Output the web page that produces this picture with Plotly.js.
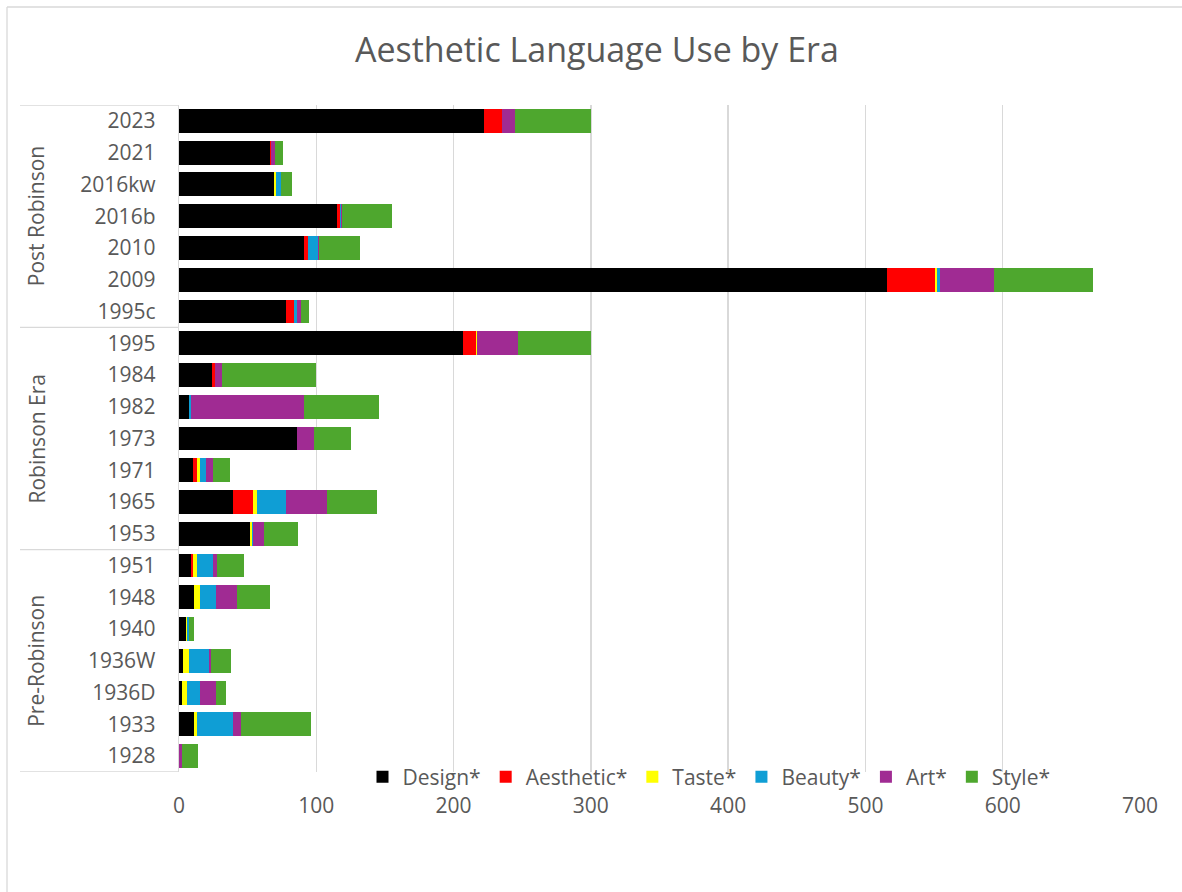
<!DOCTYPE html>
<html>
<head>
<meta charset="utf-8">
<script src="https://cdn.plot.ly/plotly-3.0.1.min.js"></script>
<style>
  html, body { margin: 0; padding: 0; background: #ffffff; overflow: hidden; }
  #chart { width: 1182px; height: 892px; }
</style>
</head>
<body>
<div id="chart"></div>
<script>
// Categories, top to bottom
const years = ['2023','2021','2016kw','2016b','2010','2009','1995c',
               '1995','1984','1982','1973','1971','1965','1953',
               '1951','1948','1940','1936W','1936D','1933','1928'];
const eras = ['Post Robinson','Post Robinson','Post Robinson','Post Robinson','Post Robinson','Post Robinson','Post Robinson',
              'Robinson Era','Robinson Era','Robinson Era','Robinson Era','Robinson Era','Robinson Era','Robinson Era',
              'Pre-Robinson','Pre-Robinson','Pre-Robinson','Pre-Robinson','Pre-Robinson','Pre-Robinson','Pre-Robinson'];

// Series values (same order as years)
const design    = [222, 66, 69, 115, 91, 516, 78, 207, 24,  7, 86, 10, 39, 52,  9, 11, 5,  3,  2, 11,  0];
const aesthetic = [ 13,  1,  0,   2,  3,  35,  6,   9,  2,  0,  0,  3, 15,  0,  1,  0, 0,  0,  0,  0,  0];
const taste     = [  0,  0,  2,   0,  0,   1,  0,   1,  0,  0,  0,  2,  3,  1,  3,  4, 1,  4,  4,  2,  0];
const beauty    = [  0,  0,  3,   1,  7,   2,  2,   0,  0,  2,  0,  5, 21,  1, 12, 12, 1, 15,  9, 26,  0];
const art       = [ 10,  3,  0,   1,  1,  40,  3,  30,  5, 82, 12,  5, 30,  8,  3, 15, 0,  1, 12,  6,  2];
const style     = [ 55,  6,  8,  36, 30,  72,  6,  53, 69, 55, 27, 12, 36, 25, 19, 24, 4, 15,  7, 51, 12];

const seriesNames = ['Design*','Aesthetic*','Taste*','Beauty*','Art*','Style*'];
const seriesColors = ['#000000','#FF0000','#FFFF00','#0F9ED5','#A02B93','#4EA72E'];
const seriesValues = [design, aesthetic, taste, beauty, art, style];

const FONT = '"Open Sans", "Liberation Sans", sans-serif';
const TXT = '#595959';
const GRID = '#d9d9d9';
const FS = 21;

const traces = seriesNames.map((name, i) => ({
  type: 'bar',
  orientation: 'h',
  name: name,
  y: years,
  x: seriesValues[i],
  marker: { color: seriesColors[i], line: { width: 0 } },
  hoverinfo: 'name+x+y'
}));

// Geometry (pixels -> paper)
const W = 1182, H = 892;
const mL = 179, mR = 42, mT = 105, mB = 120;
const plotW = W - mL - mR, plotH = H - mT - mB;
const px2x = p => (p - mL) / plotW;
const px2y = p => 1 - (p - mT) / plotH;

// Group boundaries and label positions from the eras array
const uniqueEras = [];
const eraStart = {}, eraEnd = {};
eras.forEach((e, i) => {
  if (!(e in eraStart)) { uniqueEras.push(e); eraStart[e] = i; }
  eraEnd[e] = i;
});

const shapes = [];
// outer chart border (top and left edges only are visible in the frame)
shapes.push({
  type: 'line', xref: 'paper', yref: 'paper',
  x0: px2x(7), x1: px2x(W + 60), y0: px2y(7), y1: px2y(7),
  line: { color: GRID, width: 1.3 }
});
shapes.push({
  type: 'line', xref: 'paper', yref: 'paper',
  x0: px2x(7), x1: px2x(7), y0: px2y(7), y1: px2y(H + 60),
  line: { color: GRID, width: 1.3 }
});
// category table lines
const boundaries = [eraStart[uniqueEras[0]] - 0.5];
uniqueEras.forEach(e => boundaries.push(eraEnd[e] + 0.5));
boundaries.forEach(b => shapes.push({
  type: 'line', xref: 'paper', yref: 'y',
  x0: px2x(20), x1: 0, y0: b, y1: b,
  line: { color: GRID, width: 1.3 }
}));

const annotations = uniqueEras.map(e => ({
  xref: 'paper', yref: 'y',
  x: px2x(36), y: (eraStart[e] + eraEnd[e]) / 2,
  text: e, textangle: -90, showarrow: false,
  xanchor: 'center', yanchor: 'middle',
  font: { family: FONT, size: FS, color: TXT }
}));

const layout = {
  width: W, height: H,
  margin: { l: mL, r: mR, t: mT, b: mB, pad: 0 },
  paper_bgcolor: '#ffffff', plot_bgcolor: '#ffffff',
  barmode: 'stack',
  bargap: 0.25,
  font: { family: FONT, color: TXT, size: FS },
  title: {
    text: 'Aesthetic Language Use by Era',
    x: 0.505, xref: 'container', xanchor: 'center',
    y: 1 - 50 / H, yref: 'container', yanchor: 'middle',
    font: { family: FONT, size: 34, color: TXT }
  },
  xaxis: {
    range: [0, 700], dtick: 100, tick0: 0,
    showgrid: true, gridcolor: GRID, gridwidth: 1.3,
    zeroline: false, showline: false, ticks: '',
    ticklabelstandoff: 19,
    tickfont: { family: FONT, size: FS, color: TXT },
    fixedrange: true
  },
  yaxis: {
    type: 'category',
    categoryorder: 'array', categoryarray: years,
    range: [years.length - 0.5, -0.5],
    showgrid: false, zeroline: false,
    showline: true, linecolor: GRID, linewidth: 1.3,
    ticks: '', ticklabelstandoff: 18,
    tickfont: { family: FONT, size: FS, color: TXT },
    fixedrange: true
  },
  legend: {
    orientation: 'h',
    x: px2x(709), xanchor: 'center',
    y: px2y(777), yanchor: 'middle',
    bgcolor: 'rgba(0,0,0,0)',
    font: { family: FONT, size: FS, color: TXT },
    traceorder: 'normal',
    itemwidth: 30
  },
  shapes: shapes,
  annotations: annotations,
  showlegend: true
};

Plotly.newPlot('chart', traces, layout, { displayModeBar: false, staticPlot: true });
</script>
</body>
</html>
